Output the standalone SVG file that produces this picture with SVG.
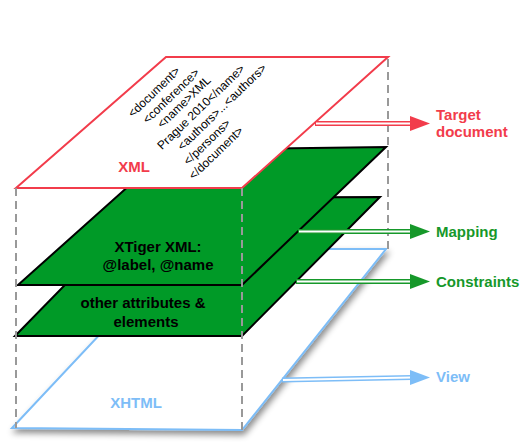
<svg xmlns="http://www.w3.org/2000/svg" width="530" height="447" viewBox="0 0 530 447">
<style>
text{font-family:"Liberation Sans",Arial,sans-serif}
.b{font-weight:bold;font-size:15px}
.red{fill:#f23c4b}
.grn{fill:#16982a}
.blu{fill:#7dbdf7}
.blk{fill:#000}
.dash{stroke:#999;stroke-width:2;stroke-dasharray:8 5;fill:none}
.code{font-size:12px;fill:#000}
.inner{stroke:#fff;stroke-width:1.8;fill:none}
</style>
<defs>
<filter id="sh" x="-10%" y="-10%" width="130%" height="130%">
<feDropShadow dx="2" dy="4" stdDeviation="3" flood-color="#000" flood-opacity="0.45"/>
</filter>
</defs>
<g id="view-plane">
<polygon points="12,428 180,249 386,249 242,430" fill="#fff" stroke="#7dbdf7" stroke-width="2" filter="url(#sh)"/>
<text class="b blu" x="136" y="408" text-anchor="middle">XHTML</text>
</g>
<g id="constraints-plane">
<polygon points="15,336 150,198 380,197 242,336" fill="#009a27" stroke="#000" stroke-width="2"/>
<text class="b blk" x="143" y="308" text-anchor="middle">other attributes &amp;</text>
<text class="b blk" x="146" y="327" text-anchor="middle">elements</text>
</g>
<g id="mapping-plane">
<polygon points="18,285 169,150 386,147 242,285" fill="#009a27" stroke="#000" stroke-width="2"/>
<text class="b blk" x="158" y="252" text-anchor="middle">XTiger XML:</text>
<text class="b blk" x="158" y="270" text-anchor="middle">@label, @name</text>
</g>
<g id="xml-plane">
<polygon points="16,188 166,57 388,57 242,188" fill="#fff" stroke="#f23c4b" stroke-width="2"/>
<text class="b red" x="134" y="172" text-anchor="middle">XML</text>
<g class="code" text-anchor="middle">
<text transform="translate(154,92) rotate(-44)" y="4">&lt;document&gt;</text>
<text transform="translate(171,96) rotate(-44)" y="4">&lt;conference&gt;</text>
<text transform="translate(184,102) rotate(-44)" y="4">&lt;name&gt;XML</text>
<text transform="translate(201,107) rotate(-44)" y="4">Prague 2010&lt;/name&gt;</text>
<text transform="translate(222,107) rotate(-44)" y="4">&lt;authors&gt;...&lt;authors&gt;</text>
<text transform="translate(207,142) rotate(-44)" y="4">&lt;/persons&gt;</text>
<text transform="translate(216,153) rotate(-44)" y="4">&lt;/document&gt;</text>
</g>
</g>
<g id="connectors">
<line class="dash" x1="16" y1="188" x2="16" y2="428"/>
<line class="dash" x1="242" y1="188" x2="242" y2="430"/>
<line class="dash" x1="388" y1="59" x2="388" y2="249"/>
<path d="M315,123.5 L412,123.5" stroke="#f23c4b" stroke-width="5" fill="none"/>
<path d="M316,123.5 L411,123.5" class="inner"/>
<polygon points="410,116 430,123.5 410,131" fill="#f23c4b"/>
<path d="M298,231.5 L412,231.5" stroke="#16982a" stroke-width="5" fill="none"/>
<path d="M299,231.5 L411,231.5" class="inner"/>
<polygon points="410,224 430,231.5 410,239" fill="#16982a"/>
<path d="M296,281.5 L412,281.5" stroke="#16982a" stroke-width="5" fill="none"/>
<path d="M297,281.5 L411,281.5" class="inner"/>
<polygon points="410,274 430,281.5 410,289" fill="#16982a"/>
<path d="M282,380 L412,377.5" stroke="#7dbdf7" stroke-width="5" fill="none"/>
<path d="M283,380 L411,377.5" class="inner"/>
<polygon points="410,370 430,377.5 410,385" fill="#7dbdf7"/>
</g>
<g id="labels">
<text class="b red" x="436" y="120">Target</text>
<text class="b red" x="436" y="137">document</text>
<text class="b grn" x="436" y="237">Mapping</text>
<text class="b grn" x="436" y="287">Constraints</text>
<text class="b blu" x="436" y="382">View</text>
</g>
</svg>
